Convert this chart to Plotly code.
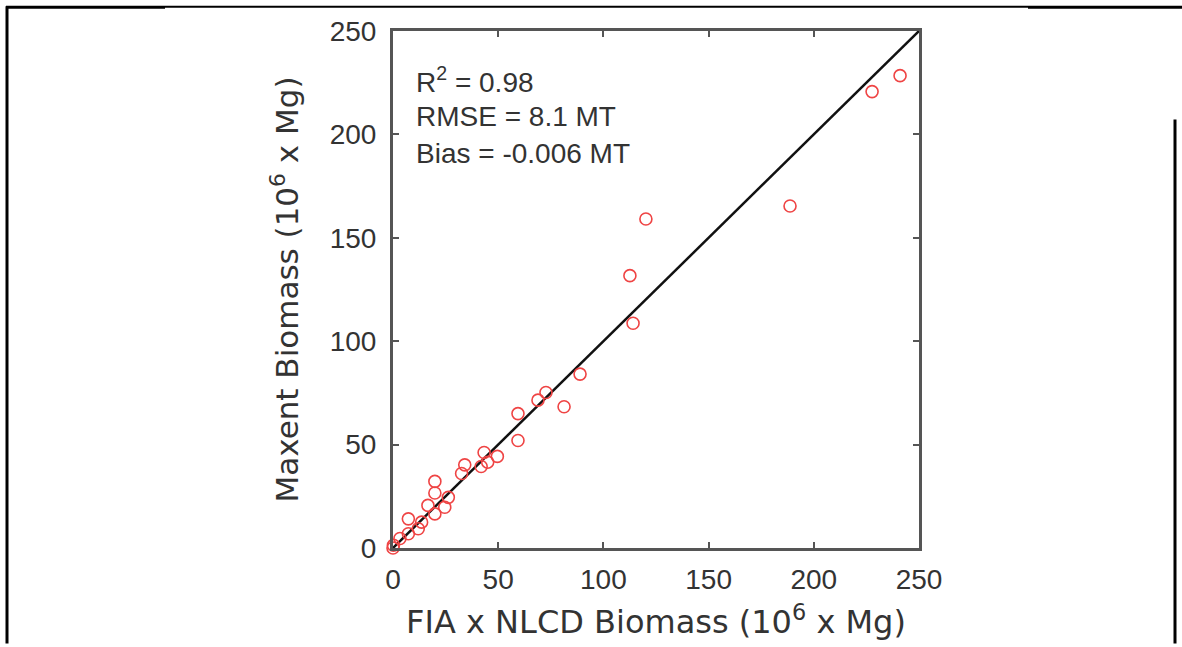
import plotly.graph_objects as go

# Data (10^6 x Mg)
fia_nlcd = [241.0, 227.7, 188.7, 120.2, 112.6, 114.1, 88.9, 72.7, 68.9, 59.4,
            81.3, 59.4, 43.3, 49.6, 45.0, 41.9, 34.1, 32.6, 19.9, 19.9,
            26.3, 16.6, 24.6, 19.9, 7.3, 13.6, 12.0, 7.3, 3.3, 0.2, 0.0]
maxent = [228.4, 220.7, 165.4, 159.1, 131.7, 108.7, 84.1, 75.2, 71.5, 65.0,
          68.3, 52.0, 46.2, 44.3, 41.5, 39.4, 40.2, 36.0, 32.2, 26.6,
          24.5, 20.6, 19.7, 16.5, 14.1, 12.5, 9.3, 6.9, 4.6, 1.3, 0.0]
one_to_one = [0, 250]
tick_vals = [0, 50, 100, 150, 200, 250]
stats_lines = ["R<sup>2</sup> = 0.98", "RMSE = 8.1 MT", "Bias = -0.006 MT"]

W, H = 1182, 647
L, R, T, B = 393, 919, 31, 551

def px_x(p):
    return (p - L) / (R - L)

def px_y(p):
    return (B - p) / (B - T)

fig = go.Figure()
fig.add_trace(go.Scatter(x=one_to_one, y=one_to_one, mode="lines",
                         line=dict(color="#111111", width=2.5),
                         hoverinfo="skip", showlegend=False))
fig.add_trace(go.Scatter(x=fia_nlcd, y=maxent, mode="markers",
                         marker=dict(symbol="circle-open", size=12,
                                     color="#ef4444", line=dict(width=1.6)),
                         showlegend=False, cliponaxis=False))

axis_common = dict(range=[0, 250], tickvals=tick_vals, ticks="inside",
                   ticklen=6, tickwidth=1.5, tickcolor="#555555",
                   showline=True, linecolor="#555555", linewidth=3,
                   mirror="ticks", showgrid=False, zeroline=False,
                   tickfont=dict(family="Liberation Sans, Arial", size=28,
                                 color="#333333"))

fig.update_layout(
    width=W, height=H,
    margin=dict(l=L, r=W - R, t=T, b=H - B, pad=0),
    paper_bgcolor="white", plot_bgcolor="white",
    xaxis=dict(**axis_common, ticklabelstandoff=4,
               title=dict(text="FIA x NLCD Biomass (10<sup>6</sup> x Mg)",
                          font=dict(family="DejaVu Sans", size=32, color="#333333"),
                          standoff=18)),
    yaxis=dict(**axis_common, ticklabelstandoff=8,
               title=dict(text="Maxent Biomass (10<sup>6</sup> x Mg)",
                          font=dict(family="DejaVu Sans", size=31, color="#333333"),
                          standoff=22)),
)

ys = [80, 117, 154]
for txt, yy in zip(stats_lines, ys):
    fig.add_annotation(x=px_x(414), y=px_y(yy), xref="paper", yref="paper",
                       text=txt, showarrow=False, xanchor="left", yanchor="middle",
                       font=dict(family="Liberation Sans, Arial", size=28, color="#333333"))

# Outer frame lines
shapes = [
    dict(x0=px_x(7), x1=px_x(7), y0=px_y(6), y1=px_y(647), width=3),
    dict(x0=px_x(1175), x1=px_x(1175), y0=px_y(120), y1=px_y(647), width=3),
    dict(x0=px_x(6), x1=px_x(165), y0=px_y(7), y1=px_y(7), width=3),
    dict(x0=px_x(165), x1=px_x(1028), y0=px_y(6.5), y1=px_y(6.5), width=2),
    dict(x0=px_x(1028), x1=px_x(1182), y0=px_y(7), y1=px_y(7), width=3),
]
for s in shapes:
    fig.add_shape(type="line", xref="paper", yref="paper",
                  x0=s["x0"], x1=s["x1"], y0=s["y0"], y1=s["y1"],
                  line=dict(color="black", width=s["width"]))

fig.write_html("out.html", config={"displayModeBar": False},
               post_script="document.body.style.margin='0';document.body.style.padding='0';")
